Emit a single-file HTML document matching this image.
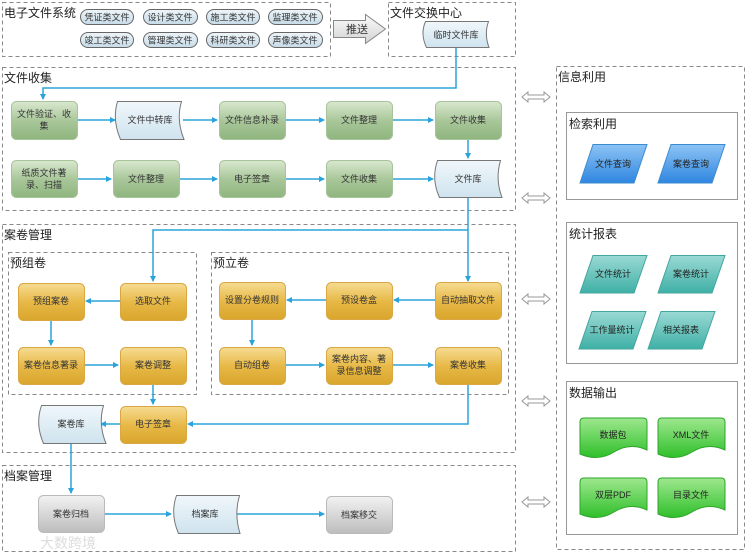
<!DOCTYPE html>
<html><head><meta charset="utf-8"><style>
body{margin:0;background:#fff}
svg text{font-family:"Liberation Sans","Noto Sans CJK SC",sans-serif}
</style></head><body>
<svg width="750" height="553" viewBox="0 0 750 553" xmlns="http://www.w3.org/2000/svg">
<defs>
<linearGradient id="gr" x1="0" y1="0" x2="0" y2="1"><stop offset="0" stop-color="#d9e8cf"/><stop offset="0.5" stop-color="#a9c79a"/><stop offset="1" stop-color="#8fb57e"/></linearGradient>
<linearGradient id="yl" x1="0" y1="0" x2="0" y2="1"><stop offset="0" stop-color="#f6dc92"/><stop offset="0.5" stop-color="#e8b948"/><stop offset="1" stop-color="#d9a52c"/></linearGradient>
<linearGradient id="gy" x1="0" y1="0" x2="0" y2="1"><stop offset="0" stop-color="#f2f2f2"/><stop offset="1" stop-color="#bdbdbd"/></linearGradient>
<linearGradient id="bl" x1="0" y1="0" x2="0" y2="1"><stop offset="0" stop-color="#f0f7fb"/><stop offset="1" stop-color="#cfe3ee"/></linearGradient>
<linearGradient id="pl" x1="0" y1="0" x2="0" y2="1"><stop offset="0" stop-color="#eef5f9"/><stop offset="1" stop-color="#c6dbe8"/></linearGradient>
<linearGradient id="bq" x1="0" y1="0" x2="0" y2="1"><stop offset="0" stop-color="#8cc3f5"/><stop offset="1" stop-color="#2f86e0"/></linearGradient>
<linearGradient id="tq" x1="0" y1="0" x2="0" y2="1"><stop offset="0" stop-color="#9ad9d4"/><stop offset="1" stop-color="#3fb0a6"/></linearGradient>
<linearGradient id="gg" x1="0" y1="0" x2="0" y2="1"><stop offset="0" stop-color="#9ee88e"/><stop offset="1" stop-color="#2fbf2a"/></linearGradient>
<linearGradient id="ar" x1="0" y1="0" x2="0" y2="1"><stop offset="0" stop-color="#fafafa"/><stop offset="1" stop-color="#d4d4d4"/></linearGradient>
<marker id="m" markerWidth="6" markerHeight="6" refX="5" refY="3" orient="auto" markerUnits="userSpaceOnUse"><path d="M0,0 L6,3 L0,6z" fill="#2aa3dc"/></marker>
</defs>
<g fill="none" stroke="#888" stroke-dasharray="4,3" stroke-width="1">
<rect x="2.5" y="2.5" width="328" height="54"/>
<rect x="388.5" y="2.5" width="127" height="54"/>
<rect x="2.5" y="67.5" width="513" height="143"/>
<rect x="2.5" y="224.5" width="513" height="228"/>
<rect x="8.5" y="252.5" width="188" height="142"/>
<rect x="211.5" y="252.5" width="297" height="142"/>
<rect x="2.5" y="465.5" width="513" height="86"/>
<rect x="556.5" y="66.5" width="188" height="483"/>
</g>
<g fill="#fff" stroke="#999">
<rect x="566.5" y="112.5" width="171" height="87"/>
<rect x="566.5" y="222.5" width="171" height="141"/>
<rect x="566.5" y="381.5" width="171" height="153"/>
</g>
<g font-size="12" fill="#222">
<text x="4" y="17">电子文件系统</text><text x="390" y="17">文件交换中心</text>
<text x="4" y="82">文件收集</text><text x="4" y="239">案卷管理</text>
<text x="10" y="267">预组卷</text><text x="213" y="267">预立卷</text>
<text x="4" y="480">档案管理</text><text x="558" y="81">信息利用</text>
<text x="569" y="128">检索利用</text><text x="569" y="238">统计报表</text><text x="569" y="397">数据输出</text>
</g>
<!-- pills -->
<g fill="url(#pl)" stroke="#666">
<rect x="80.5" y="9.5" width="53" height="15" rx="7.5"/><rect x="143.5" y="9.5" width="54" height="15" rx="7.5"/><rect x="206.5" y="9.5" width="53" height="15" rx="7.5"/><rect x="268.5" y="9.5" width="54" height="15" rx="7.5"/>
<rect x="80.5" y="32.5" width="53" height="15" rx="7.5"/><rect x="143.5" y="32.5" width="54" height="15" rx="7.5"/><rect x="206.5" y="32.5" width="53" height="15" rx="7.5"/><rect x="268.5" y="32.5" width="54" height="15" rx="7.5"/>
</g>
<g font-size="9" fill="#333" text-anchor="middle">
<text x="107" y="20.5">凭证类文件</text><text x="170" y="20.5">设计类文件</text><text x="233" y="20.5">施工类文件</text><text x="295" y="20.5">监理类文件</text>
<text x="107" y="43.5">竣工类文件</text><text x="170" y="43.5">管理类文件</text><text x="233" y="43.5">科研类文件</text><text x="295" y="43.5">声像类文件</text>
</g>
<path d="M333.5,20.5 H365.5 V14.5 L385.5,29 L365.5,43.5 V37.5 H333.5Z" fill="url(#ar)" stroke="#888"/>
<text x="357" y="33" font-size="11" fill="#333" text-anchor="middle">推送</text>
<!-- connectors -->
<g stroke="#2aa3dc" stroke-width="1.5" fill="none">
<path d="M456,47 V88 H43 V99" marker-end="url(#m)"/>
<path d="M77,120 H115" marker-end="url(#m)"/><path d="M183,120 H217" marker-end="url(#m)"/><path d="M285,120 H324" marker-end="url(#m)"/><path d="M392,120 H433" marker-end="url(#m)"/>
<path d="M468,139 V158" marker-end="url(#m)"/>
<path d="M77,179 H111" marker-end="url(#m)"/><path d="M179,179 H217" marker-end="url(#m)"/><path d="M285,179 H324" marker-end="url(#m)"/><path d="M392,179 H433" marker-end="url(#m)"/>
<path d="M468,197 V281" marker-end="url(#m)"/><path d="M468,230 H153 V281" marker-end="url(#m)"/>
<path d="M120,301 H86" marker-end="url(#m)"/><path d="M51,320 V345" marker-end="url(#m)"/><path d="M84,365 H118" marker-end="url(#m)"/><path d="M153,384 V404" marker-end="url(#m)"/>
<path d="M435,300 H394" marker-end="url(#m)"/><path d="M326,300 H287" marker-end="url(#m)"/><path d="M252,319 V345" marker-end="url(#m)"/>
<path d="M285,365 H324" marker-end="url(#m)"/><path d="M392,365 H433" marker-end="url(#m)"/>
<path d="M468,384 V424 H188" marker-end="url(#m)"/><path d="M120,424 H101" marker-end="url(#m)"/>
<path d="M71,443 V493" marker-end="url(#m)"/><path d="M104,514 H171" marker-end="url(#m)"/><path d="M236,514 H324" marker-end="url(#m)"/>
</g>
<!-- green boxes -->
<g fill="url(#gr)" stroke="#a8c49b">
<rect x="11.5" y="101.5" width="66" height="38" rx="5"/><rect x="219.5" y="101.5" width="66" height="38" rx="5"/><rect x="326.5" y="101.5" width="66" height="38" rx="5"/><rect x="435.5" y="101.5" width="66" height="38" rx="5"/>
<rect x="11.5" y="160.5" width="66" height="37" rx="5"/><rect x="113.5" y="160.5" width="66" height="37" rx="5"/><rect x="219.5" y="160.5" width="66" height="37" rx="5"/><rect x="326.5" y="160.5" width="66" height="37" rx="5"/>
</g>
<g fill="url(#yl)" stroke="#d9a844">
<rect x="18.5" y="283.5" width="66" height="37" rx="5"/><rect x="120.5" y="283.5" width="66" height="37" rx="5"/><rect x="219.5" y="282.5" width="66" height="37" rx="5"/><rect x="326.5" y="282.5" width="66" height="37" rx="5"/><rect x="435.5" y="282.5" width="66" height="37" rx="5"/>
<rect x="18.5" y="347.5" width="66" height="37" rx="5"/><rect x="120.5" y="347.5" width="66" height="37" rx="5"/><rect x="219.5" y="347.5" width="66" height="37" rx="5"/><rect x="326.5" y="347.5" width="66" height="37" rx="5"/><rect x="435.5" y="347.5" width="66" height="37" rx="5"/>
<rect x="120.5" y="406.5" width="66" height="37" rx="5"/>
</g>
<g fill="url(#gy)" stroke="#bbb">
<rect x="38.5" y="495.5" width="66" height="37" rx="5"/><rect x="326.5" y="496.5" width="66" height="37" rx="5"/>
</g>
<!-- tape shapes -->
<g fill="url(#bl)" stroke="#777">
<path d="M425.5,21.5 H488.5 Q484,34 489,47.5 H426.5 Q420,34 425.5,21.5Z"/>
<path d="M117.5,101.5 H181.5 Q176,120 184,139.5 H120.5 Q112,120 117.5,101.5Z"/>
<path d="M437.5,160.5 H500.5 Q495,179 502,197.5 H439.5 Q431,179 437.5,160.5Z"/>
<path d="M41.5,405.5 H103.5 Q98,424 106,443.5 H43.5 Q35,424 41.5,405.5Z"/>
<path d="M176.5,495.5 H239.5 Q234,514 240,533.5 H178.5 Q170,514 176.5,495.5Z"/>
</g>
<g font-size="9" fill="#333" text-anchor="middle">
<text x="456" y="38">临时文件库</text>
<text x="44" y="117">文件验证、收</text><text x="44" y="129">集</text>
<text x="150" y="123">文件中转库</text><text x="252" y="123">文件信息补录</text><text x="359" y="123">文件整理</text><text x="468" y="123">文件收集</text>
<text x="44" y="176">纸质文件著</text><text x="44" y="188">录、扫描</text>
<text x="146" y="182">文件整理</text><text x="252" y="182">电子签章</text><text x="359" y="182">文件收集</text><text x="468" y="182">文件库</text>
<text x="51" y="304">预组案卷</text><text x="153" y="304">选取文件</text><text x="252" y="303">设置分卷规则</text><text x="359" y="303">预设卷盒</text><text x="468" y="303">自动抽取文件</text>
<text x="51" y="368">案卷信息著录</text><text x="153" y="368">案卷调整</text><text x="252" y="368">自动组卷</text>
<text x="359" y="362">案卷内容、著</text><text x="359" y="374">录信息调整</text><text x="468" y="368">案卷收集</text>
<text x="153" y="427">电子签章</text><text x="71" y="427">案卷库</text>
<text x="71" y="517">案卷归档</text><text x="205" y="517">档案库</text><text x="359" y="518">档案移交</text>
</g>
<!-- double arrows -->
<g fill="#fff" stroke="#999">
<path d="M522,97 L528,92 V95 H544 V92 L550,97 L544,102 V99 H528 V102Z"/>
<path d="M522,198 L528,193 V196 H544 V193 L550,198 L544,203 V200 H528 V203Z"/>
<path d="M522,299 L528,294 V297 H544 V294 L550,299 L544,304 V301 H528 V304Z"/>
<path d="M522,401 L528,396 V399 H544 V396 L550,401 L544,406 V403 H528 V406Z"/>
<path d="M522,502 L528,497 V500 H544 V497 L550,502 L544,507 V504 H528 V507Z"/>
</g>
<!-- parallelograms -->
<g stroke="#3a8bd0" fill="url(#bq)">
<path d="M593,144.5 H647 L634,183 H580Z"/><path d="M671,144.5 H725 L712,183 H658Z"/>
</g>
<g stroke="#43a69d" fill="url(#tq)">
<path d="M593,255.5 H647 L634,293 H580Z"/><path d="M671,255.5 H725 L712,293 H658Z"/>
<path d="M592,311.5 H646 L633,349 H579Z"/><path d="M661,311.5 H715 L702,349 H648Z"/>
</g>
<g stroke="#2da52a" fill="url(#gg)">
<path d="M580,422 Q580,418 584,418 H643 Q647,418 647,422 V450 Q630,442 614,452 Q598,462 580,454Z"/>
<path d="M658,422 Q658,418 662,418 H721 Q725,418 725,422 V450 Q708,442 692,452 Q676,462 658,454Z"/>
<path d="M580,482 Q580,478 584,478 H643 Q647,478 647,482 V510 Q630,502 614,512 Q598,522 580,514Z"/>
<path d="M658,482 Q658,478 662,478 H721 Q725,478 725,482 V510 Q708,502 692,512 Q676,522 658,514Z"/>
</g>
<g font-size="9" fill="#222" text-anchor="middle">
<text x="613" y="167">文件查询</text><text x="691" y="167">案卷查询</text>
<text x="613" y="277">文件统计</text><text x="691" y="277">案卷统计</text>
<text x="612" y="333">工作量统计</text><text x="681" y="333">相关报表</text>
<text x="613" y="438">数据包</text><text x="691" y="438">XML文件</text>
<text x="613" y="498">双层PDF</text><text x="691" y="498">目录文件</text>
</g>
<text x="40" y="548" font-size="14" fill="#ddd">大数跨境</text>
</svg>
</body></html>
